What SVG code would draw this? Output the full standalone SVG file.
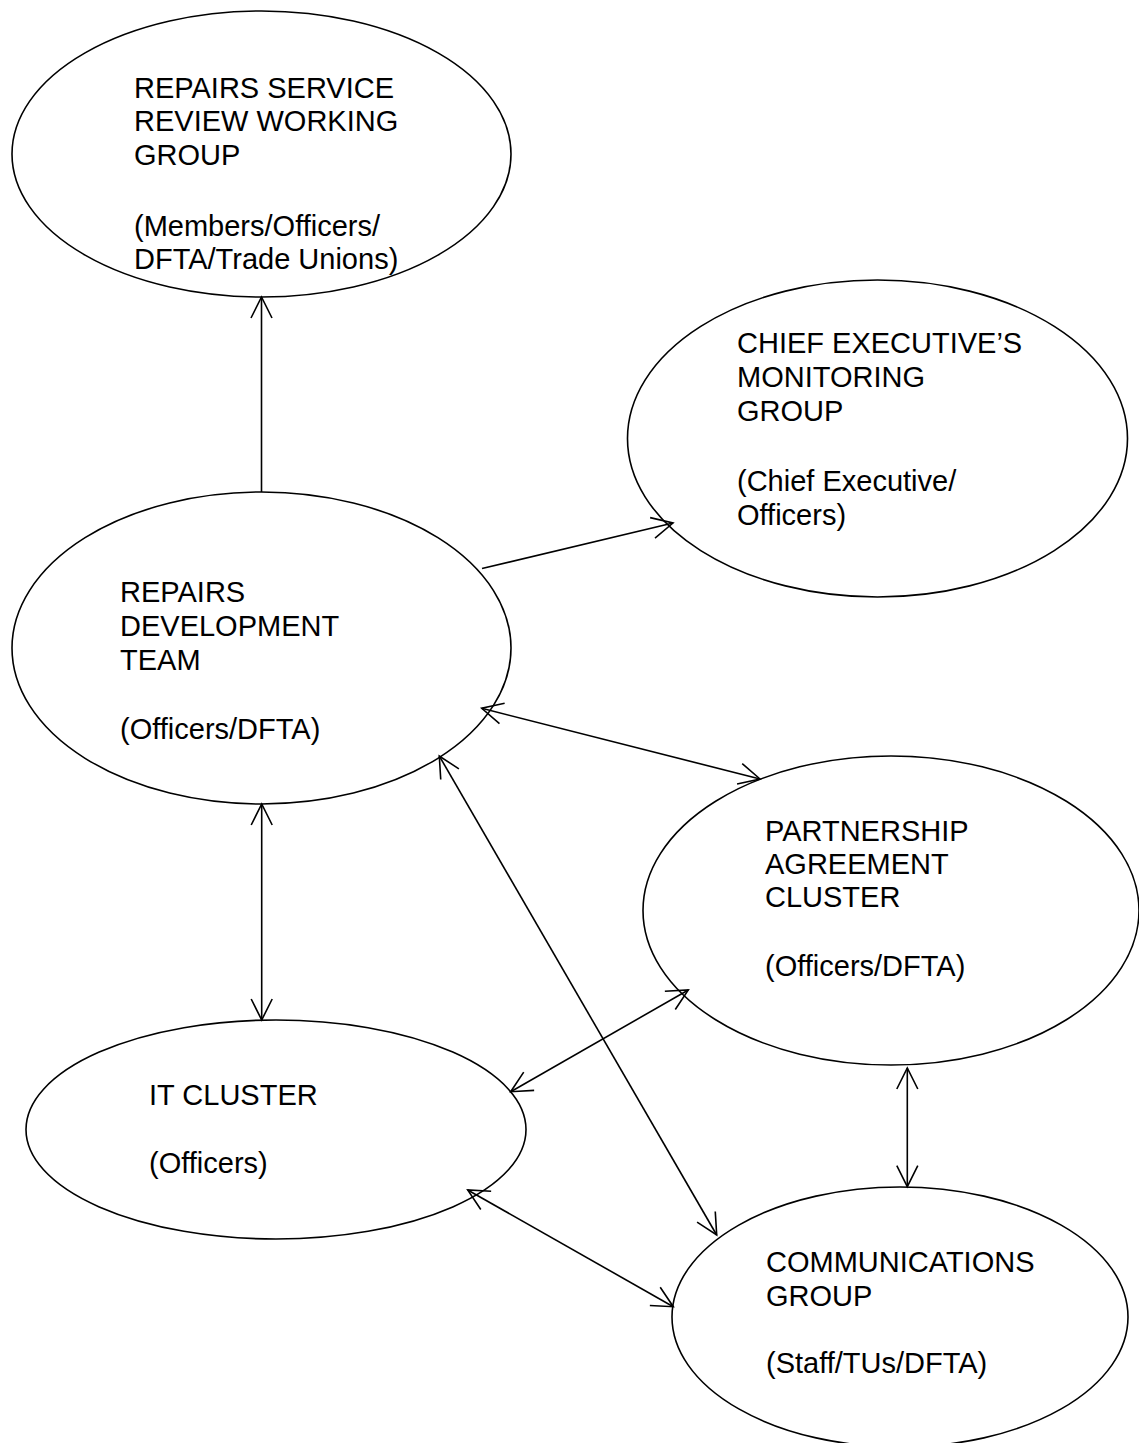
<svg xmlns="http://www.w3.org/2000/svg" width="1139" height="1443" viewBox="0 0 1139 1443">
<style>
.node ellipse{fill:#fff;stroke:#000;stroke-width:1.6}
.node text{font-family:"Liberation Sans",Arial,sans-serif;font-size:29px;fill:#000}
.conn line{stroke:#000;stroke-width:1.6;fill:none}
</style>
<defs>
<marker id="a" markerUnits="userSpaceOnUse" markerWidth="30" markerHeight="30" viewBox="-25 -15 30 30" refX="0" refY="0" orient="auto-start-reverse" overflow="visible">
<path d="M-21,-10.5 L0,0 L-21,10.5" fill="none" stroke="#000" stroke-width="1.6"/>
</marker>
</defs>
<rect width="1139" height="1443" fill="#fff"/>
<g id="n1" class="node">
<ellipse cx="261.5" cy="154" rx="249.5" ry="143"/>
<text x="134" y="98">REPAIRS SERVICE</text>
<text x="134" y="131">REVIEW WORKING</text>
<text x="134" y="165">GROUP</text>
<text x="134" y="236">(Members/Officers/</text>
<text x="134" y="269">DFTA/Trade Unions)</text>
</g>
<g id="n2" class="node">
<ellipse cx="877.5" cy="438.5" rx="250" ry="158.5"/>
<text x="737" y="353">CHIEF EXECUTIVE’S</text>
<text x="737" y="387">MONITORING</text>
<text x="737" y="421">GROUP</text>
<text x="737" y="491">(Chief Executive/</text>
<text x="737" y="525">Officers)</text>
</g>
<g id="n3" class="node">
<ellipse cx="261.5" cy="648" rx="249.5" ry="156"/>
<text x="120" y="602">REPAIRS</text>
<text x="120" y="636">DEVELOPMENT</text>
<text x="120" y="670">TEAM</text>
<text x="120" y="739">(Officers/DFTA)</text>
</g>
<g id="n4" class="node">
<ellipse cx="891" cy="910.5" rx="248" ry="154.5"/>
<text x="765" y="841">PARTNERSHIP</text>
<text x="765" y="874">AGREEMENT</text>
<text x="765" y="907">CLUSTER</text>
<text x="765" y="976">(Officers/DFTA)</text>
</g>
<g id="n5" class="node">
<ellipse cx="276" cy="1129.5" rx="250" ry="109.5"/>
<text x="149" y="1105">IT CLUSTER</text>
<text x="149" y="1173">(Officers)</text>
</g>
<g id="n6" class="node">
<ellipse cx="900" cy="1317" rx="228" ry="130"/>
<text x="766" y="1272">COMMUNICATIONS</text>
<text x="766" y="1306">GROUP</text>
<text x="766" y="1373">(Staff/TUs/DFTA)</text>
</g>
<g id="connectors" class="conn">
<line x1="261.5" y1="492" x2="261.5" y2="297" marker-end="url(#a)"/>
<line x1="482" y1="568.5" x2="673" y2="523" marker-end="url(#a)"/>
<line x1="481.7" y1="708.3" x2="760" y2="779" marker-start="url(#a)" marker-end="url(#a)"/>
<line x1="439.3" y1="756" x2="716.7" y2="1235" marker-start="url(#a)" marker-end="url(#a)"/>
<line x1="261.7" y1="804" x2="261.7" y2="1020" marker-start="url(#a)" marker-end="url(#a)"/>
<line x1="510.7" y1="1091.7" x2="688.3" y2="990" marker-start="url(#a)" marker-end="url(#a)"/>
<line x1="907.3" y1="1068" x2="907.3" y2="1186.7" marker-start="url(#a)" marker-end="url(#a)"/>
<line x1="467.7" y1="1190" x2="673.3" y2="1306.7" marker-start="url(#a)" marker-end="url(#a)"/>
</g>
</svg>
